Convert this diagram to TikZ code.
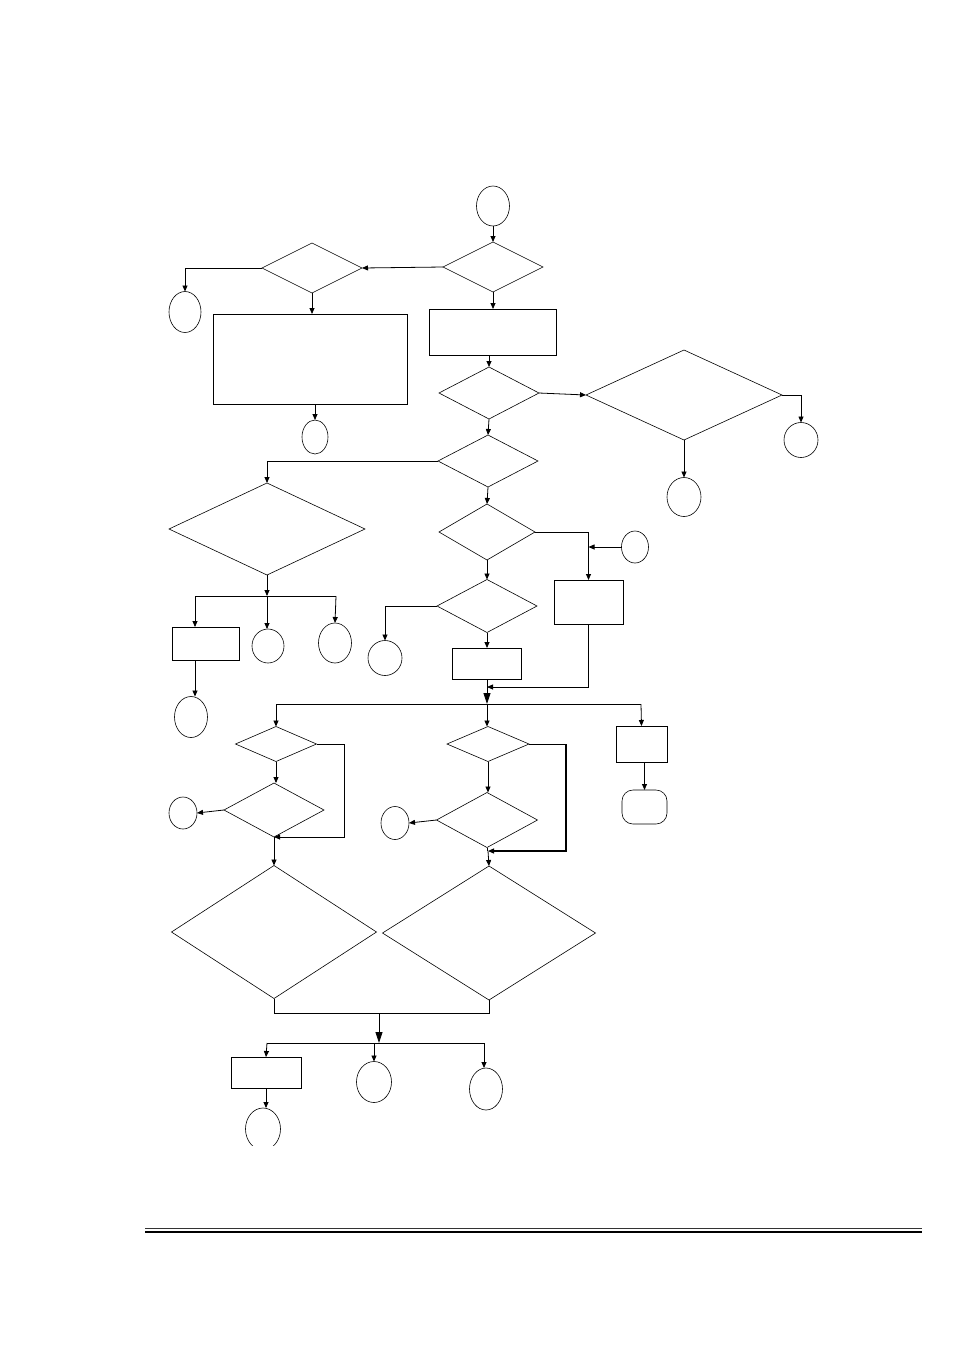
\documentclass[tikz,border=0pt]{standalone}
\usetikzlibrary{shapes.geometric,arrows.meta}
\begin{document}
\begin{tikzpicture}[x=1pt,y=-1pt,line width=0.8pt,
  every node/.style={draw,inner sep=0pt,outer sep=0pt},
  dia/.style={diamond,line width=0.6pt},
  oval/.style={ellipse,line width=0.6pt},
  box/.style={rectangle,line width=0.8pt},
  arr/.style={-{Triangle[width=5pt,length=6pt]}},
  bigarr/.style={-{Triangle[width=7pt,length=11pt]}}]
\useasboundingbox (0,0) rectangle (954,1350);
% nodes
\node[oval,minimum width=33pt,minimum height=40pt] (o1) at (493,206) {};
\node[dia,minimum width=100pt,minimum height=50pt] (d1) at (493,267) {};
\node[dia,minimum width=100pt,minimum height=50pt] (d2) at (312,268) {};
\node[oval,minimum width=32pt,minimum height=41pt] (o2) at (185,312) {};
\node[box,minimum width=194pt,minimum height=90pt] (b1) at (310,359) {};
\node[oval,minimum width=26pt,minimum height=34pt] (o3) at (315,437) {};
\node[box,minimum width=127pt,minimum height=46pt] (b2) at (492.5,332) {};
\node[dia,minimum width=100pt,minimum height=52pt] (d3) at (489,393) {};
\node[dia,minimum width=196pt,minimum height=90pt] (d4) at (684,395) {};
\node[oval,minimum width=34pt,minimum height=35pt] (o4) at (801,440) {};
\node[oval,minimum width=34pt,minimum height=39pt] (o5) at (684,497) {};
\node[dia,minimum width=100pt,minimum height=52pt] (d5) at (488,461) {};
\node[dia,minimum width=196pt,minimum height=92pt] (d6) at (267,529) {};
\node[box,minimum width=67pt,minimum height=33pt] (b3) at (205.5,643.5) {};
\node[oval,minimum width=32pt,minimum height=34pt] (o6) at (268,646) {};
\node[oval,minimum width=33pt,minimum height=40pt] (o7) at (335,643) {};
\node[oval,minimum width=33pt,minimum height=41pt] (o8) at (191,717) {};
\node[dia,minimum width=96pt,minimum height=56pt] (d7) at (487,532) {};
\node[oval,minimum width=27pt,minimum height=32pt] (o9) at (635,547) {};
\node[box,minimum width=69pt,minimum height=44pt] (b4) at (588.5,602) {};
\node[dia,minimum width=100pt,minimum height=53pt] (d8) at (487,606) {};
\node[oval,minimum width=34pt,minimum height=35pt] (o10) at (385,658) {};
\node[box,minimum width=69pt,minimum height=31pt] (b5) at (486.5,663.5) {};
\node[dia,minimum width=81pt,minimum height=35pt] (d9) at (276,744) {};
\node[dia,minimum width=100pt,minimum height=54pt] (d11) at (274,810) {};
\node[oval,minimum width=28pt,minimum height=32pt] (o11) at (183,813) {};
\node[dia,minimum width=82pt,minimum height=35pt] (d10) at (488,744) {};
\node[dia,minimum width=101pt,minimum height=55pt] (d12) at (487,820) {};
\node[oval,minimum width=28pt,minimum height=33pt] (o12) at (395,823) {};
\node[box,minimum width=51pt,minimum height=36pt] (b6) at (641.5,744) {};
\node[box,rounded corners=11pt,line width=0.6pt,minimum width=45pt,minimum height=34pt] (o13) at (644.5,807) {};
\node[dia,minimum width=205pt,minimum height=133pt] (d13) at (274,932) {};
\node[dia,minimum width=213pt,minimum height=134pt] (d14) at (489,933) {};
\node[box,minimum width=70pt,minimum height=31pt] (b7) at (266,1072.5) {};
\node[oval,minimum width=35pt,minimum height=41pt] (o14) at (374,1082) {};
\node[oval,minimum width=33pt,minimum height=42pt] (o15) at (486,1089) {};
\begin{scope}
\clip (0,0) rectangle (954,1145);
\node[oval,minimum width=35pt,minimum height=42pt] (o16) at (263,1129) {};
\end{scope}
% junction coordinates
\coordinate (j1) at (267,596);
\coordinate (j1L) at (195,596);
\coordinate (j1R) at (336,596);
\coordinate (j2) at (487,687);
\coordinate (j3) at (487,704);
\coordinate (j3L) at (276,704);
\coordinate (j3R) at (641,704);
\coordinate (j4) at (274,837);
\coordinate (r4) at (344,744);
\coordinate (j5) at (488,851);
\coordinate (r5) at (566,744);
\coordinate (j6) at (379,1013);
\coordinate (j7) at (379,1043);
\coordinate (j7L) at (267,1043);
\coordinate (j7R) at (484,1043);
% connectors
\draw[arr] (o1.south) -- (d1.north);
\draw[arr] (d1.west) -- (d2.east);
\draw[arr] (d2.west) -| (o2.north);
\draw[arr] (d2.south) -- (d2.south |- b1.north);
\draw[arr] (o3.north |- b1.south) -- (o3.north);
\draw[arr] (d1.south) -- (d1.south |- b2.north);
\draw[arr] (d3.north |- b2.south) -- (d3.north);
\draw[arr] (d3.east) -- (d4.west);
\draw[arr] (d4.east) -| (o4.north);
\draw[arr] (d4.south) -- (o5.north);
\draw[arr] (d3.south) -- (d5.north);
\draw[arr] (d5.west) -| (d6.north);
\draw[arr] (d6.south) -- (j1);
\draw (j1L) -- (j1R);
\draw[arr] (j1L) -- (j1L |- b3.north);
\draw[arr] (j1) -- (j1 |- o6.north);
\draw[arr] (j1R) -- (o7.north);
\draw[arr] (j1L |- b3.south) -- (j1L |- o8.north);
\draw[arr] (d5.south) -- (d7.north);
\draw[arr] (d7.east) -| (b4.north);
\draw[arr] (o9.west) -- (o9.west -| b4.north);
\draw[arr] (d7.south) -- (d8.north);
\draw[arr] (d8.west) -| (o10.north);
\draw[arr] (d8.south) -- (d8.south |- b5.north);
\draw[arr] (b4.south) |- (j2);
\draw[bigarr] (j2 |- b5.south) -- (j3);
\draw (j3L) -- (j3R);
\draw[arr] (j3L) -- (d9.north);
\draw[arr] (j3) -- (j3 |- d10.north);
\draw[arr] (j3R) -- (b6.north);
\draw (d9.east) -- (r4);
\draw[arr] (r4) |- (j4);
\draw[arr] (d9.south) -- (d9.south |- d11.north);
\draw[arr] (d11.west) -- (o11.east);
\draw[arr] (j4) -- (d13.north);
\draw (d10.east) -- (r5);
\draw[arr,line width=1.2pt] (r5) |- (j5);
\draw[arr] (d10.south) -- (d10.south |- d12.north);
\draw[arr] (d12.west) -- (o12.east);
\draw (d12.south) -- (d12.south |- j5);
\draw[arr] (j5) -- (d14.north);
\draw[arr] (o13.north |- b6.south) -- (o13.north);
\draw (d13.south) |- (j6) -| (d14.south);
\draw[bigarr] (j6) -- (j7);
\draw (j7L) -- (j7R);
\draw[arr] (j7L) -- (b7.north);
\draw[arr] (o14.north |- j7) -- (o14.north);
\draw[arr] (j7R) -- (j7R |- o15.north);
\draw[arr] (b7.south) -- (b7.south |- o16.north);
% footer rule
\draw[line width=1pt,black!80] (145,1228) -- (922,1228);
\draw[line width=1.6pt] (145,1232) -- (922,1232);
\end{tikzpicture}
\end{document}
